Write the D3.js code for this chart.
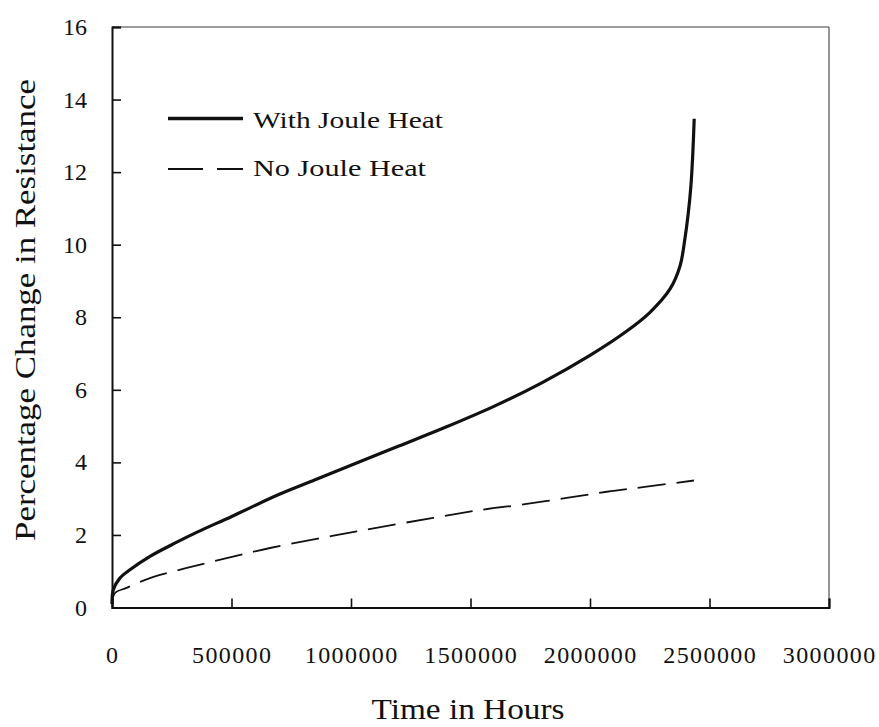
<!DOCTYPE html>
<html>
<head>
<meta charset="utf-8">
<script src="https://cdn.jsdelivr.net/npm/d3@7"></script>
<style>
  html, body { margin: 0; padding: 0; background: #fff; }
  svg { display: block; }
  text { font-family: "Liberation Serif", "Times New Roman", serif; fill: #111; }
</style>
</head>
<body>
<svg id="chart" width="879" height="727"></svg>
<script>
// Resistance change over time, with and without Joule heating
const hoursJoule = [0, 5600, 33000, 75000, 159000, 271000, 354000, 501000, 700000, 850000,
  1000000, 1200000, 1400000, 1600000, 1800000, 2000000, 2150000, 2250000, 2335000, 2377000,
  2397000, 2410000, 2422000, 2430000, 2436000];
const pctJoule = [0.1, 0.49, 0.81, 1.04, 1.41, 1.80, 2.07, 2.51, 3.12, 3.52,
  3.92, 4.45, 4.98, 5.55, 6.20, 6.95, 7.60, 8.13, 8.78, 9.42,
  10.16, 10.80, 11.60, 12.50, 13.47];

const hoursNoJoule = [0, 12600, 61000, 159000, 313000, 480000, 661000, 856000, 1024000,
  1344000, 1554000, 1721000, 1902000, 2070000, 2237000, 2435000];
const pctNoJoule = [0.1, 0.40, 0.54, 0.81, 1.09, 1.36, 1.64, 1.89, 2.10,
  2.47, 2.70, 2.84, 3.02, 3.19, 3.33, 3.50];

const xTicks = [0, 500000, 1000000, 1500000, 2000000, 2500000, 3000000];
const yTicks = [0, 2, 4, 6, 8, 10, 12, 14, 16];
const seriesNames = ["With Joule Heat", "No Joule Heat"];

const FONT = '"Liberation Serif", "Times New Roman", serif';
const svg = d3.select("#chart").attr("font-family", FONT);
const plotLeft = 112, plotRight = 829, plotTop = 27, plotBottom = 607.5;

const x = d3.scaleLinear().domain([0, 3000000]).range([plotLeft, plotRight]);
const y = d3.scaleLinear().domain([0, 16]).range([plotBottom, plotTop]);

// frame: top and right edges in grey
svg.append("line").attr("x1", plotLeft).attr("x2", plotRight).attr("y1", plotTop).attr("y2", plotTop)
  .attr("stroke", "#7a7a7a").attr("stroke-width", 1.6);
svg.append("line").attr("x1", plotRight).attr("x2", plotRight).attr("y1", plotTop).attr("y2", plotBottom)
  .attr("stroke", "#7a7a7a").attr("stroke-width", 1.6);

// left axis, ticks pointing inward
const yAxis = svg.append("g").attr("transform", `translate(${plotLeft},0)`)
  .call(d3.axisRight(y).tickValues(yTicks).tickSize(9).tickFormat(""));
yAxis.select(".domain").attr("stroke", "#111").attr("stroke-width", 2);
yAxis.selectAll(".tick line").attr("stroke", "#111").attr("stroke-width", 1.6);

// bottom axis, ticks pointing inward
const xAxis = svg.append("g").attr("transform", `translate(0,${plotBottom})`)
  .call(d3.axisTop(x).tickValues(xTicks).tickSize(9).tickFormat(""));
xAxis.select(".domain").attr("stroke", "#111").attr("stroke-width", 2);
xAxis.selectAll(".tick line").attr("stroke", "#111").attr("stroke-width", 1.6);

// tick labels
svg.append("g").selectAll("text").data(yTicks).join("text")
  .attr("font-family", FONT)
  .attr("x", 87).attr("y", d => y(d) + 8)
  .attr("text-anchor", "end").attr("font-size", 24)
  .text(d => d);

svg.append("g").selectAll("text").data(xTicks).join("text")
  .attr("font-family", FONT)
  .attr("x", d => x(d) + 0.7).attr("y", 663)
  .attr("text-anchor", "middle").attr("font-size", 24)
  .attr("letter-spacing", 1.4)
  .text(d => d);

// axis titles
svg.append("text")
  .attr("font-family", FONT)
  .attr("transform", "translate(35,310) rotate(-90)")
  .attr("text-anchor", "middle").attr("font-size", 30)
  .attr("textLength", 462).attr("lengthAdjust", "spacingAndGlyphs")
  .text("Percentage Change in Resistance");

svg.append("text")
  .attr("font-family", FONT)
  .attr("x", 468).attr("y", 719)
  .attr("text-anchor", "middle").attr("font-size", 29)
  .attr("textLength", 193).attr("lengthAdjust", "spacingAndGlyphs")
  .text("Time in Hours");

// curves (centripetal Catmull-Rom keeps the steep end smooth)
const line = d3.line().x(d => x(d[0])).y(d => y(d[1])).curve(d3.curveCatmullRom.alpha(0.5));

svg.append("path")
  .datum(hoursNoJoule.map((h, i) => [h, pctNoJoule[i]]))
  .attr("d", line).attr("fill", "none")
  .attr("stroke", "#111").attr("stroke-width", 1.8)
  .attr("stroke-dasharray", "28,11");

svg.append("path")
  .datum(hoursJoule.map((h, i) => [h, pctJoule[i]]))
  .attr("d", line).attr("fill", "none")
  .attr("stroke", "#111").attr("stroke-width", 3.2)
  .attr("stroke-linejoin", "round");

// legend
const legend = svg.append("g");
legend.append("line").attr("x1", 168).attr("x2", 243).attr("y1", 118.5).attr("y2", 118.5)
  .attr("stroke", "#111").attr("stroke-width", 3.6);
legend.append("line").attr("x1", 168).attr("x2", 243).attr("y1", 169).attr("y2", 169)
  .attr("stroke", "#111").attr("stroke-width", 1.8).attr("stroke-dasharray", "35,14");
legend.append("text").attr("font-family", FONT)
  .attr("x", 253).attr("y", 127.5).attr("font-size", 24)
  .attr("textLength", 190).attr("lengthAdjust", "spacingAndGlyphs")
  .text(seriesNames[0]);
legend.append("text").attr("font-family", FONT)
  .attr("x", 253).attr("y", 176).attr("font-size", 24)
  .attr("textLength", 173).attr("lengthAdjust", "spacingAndGlyphs")
  .text(seriesNames[1]);
</script>
</body>
</html>
